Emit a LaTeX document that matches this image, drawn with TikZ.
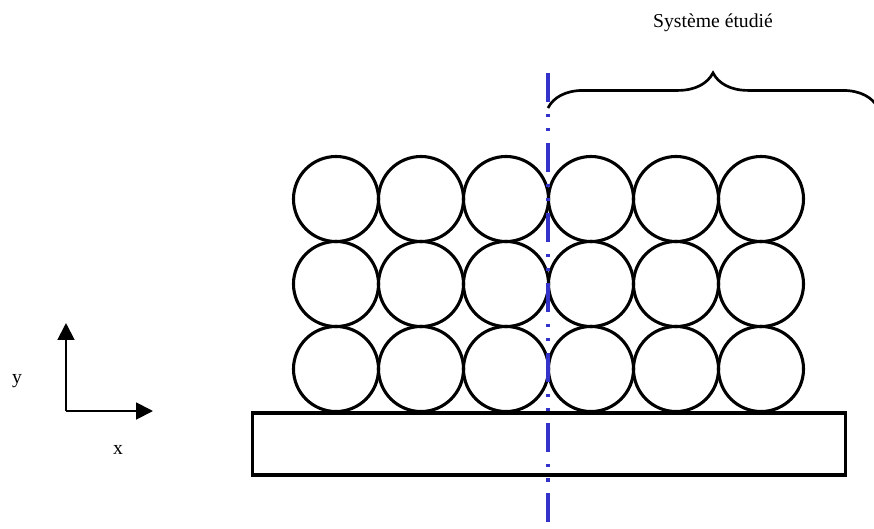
\documentclass[tikz,border=0pt]{standalone}
\usepackage{fontspec}
\setmainfont{Liberation Serif}
\usepackage{xcolor}
\definecolor{cutblue}{RGB}{51,51,204}
\usepackage{tikz}
\usetikzlibrary{arrows.meta,positioning,calc,decorations.pathreplacing}
\tikzset{
  %% grains of the packing
  grain/.style={circle, draw=black, line width=2.2pt, minimum size=2.125cm,
                inner sep=0pt},
  %% support plate
  plate/.style={rectangle, draw=black, line width=2.2pt,
                minimum width=14.8cm, minimum height=1.55cm, inner sep=0pt},
  cutline/.style={draw=cutblue, line width=2.8pt, line cap=butt,
                  dash pattern=on 20.6pt off 8.5pt on 2.4pt off 7.6pt on 2.4pt off 8.3pt},
  axisarrow/.style={draw=black, line width=1.4pt,
                    -{Triangle[length=12pt,width=12pt]}},
  lbl/.style={font=\fontsize{14}{16}\selectfont, inner sep=0pt},
}

\begin{document}
\begin{tikzpicture}[x=0.025cm,y=-0.025cm]
\useasboundingbox (0,0) rectangle (874,528);

%% packing: 3 rows x 6 columns
\foreach \r/\yy in {1/199, 2/284, 3/369}{
  \foreach \c in {1,...,6}{
    \node[grain] (g\r\c) at ({336+85*(\c-1)},\yy) {};
  }
}

%% support
\node[plate] (base) at (549,444) {};

%% cut line
\coordinate (cuttop) at (548,73);
\coordinate (cutbot) at (548,524);
\draw[cutline] (cuttop) -- (cutbot);

%% brace over the studied part
\coordinate (braceL) at (548,108);
\coordinate (braceR) at (878,108);
\draw[line width=1.9pt, decorate,
      decoration={brace, amplitude=25pt, aspect=0.5}] (braceL) -- (braceR);
\node[lbl] (title) at (713,23) {Système étudié};

%% axes
\coordinate (orig) at (66,411);
\coordinate (ytip) at (66,323);
\coordinate (xtip) at (153,411);
\draw[axisarrow] (orig) -- (ytip);
\draw[axisarrow] (orig) -- (xtip);
\node[lbl] (ylbl) at (17,381) {y};
\node[lbl] (xlbl) at (118,450) {x};
\end{tikzpicture}
\end{document}
